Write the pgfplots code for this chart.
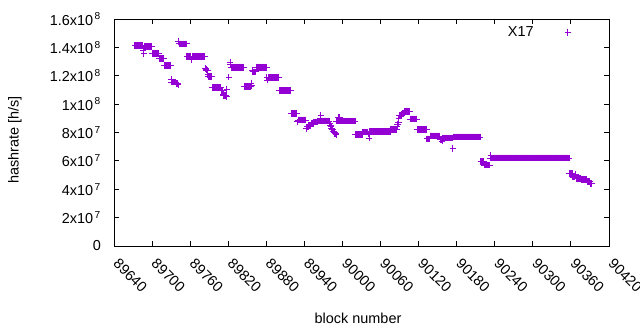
\documentclass[border=0pt]{standalone}
\usepackage{pgfplots}
\pgfplotsset{compat=1.18}
\usepackage{fontspec}
\setmainfont{Liberation Sans}
\definecolor{dv}{RGB}{148,0,211}
\newcommand{\sx}[2]{#1x10\kern1.5bp\textsuperscript{#2}}
\begin{document}
\fontsize{14.5}{17}\selectfont
\begin{tikzpicture}
\useasboundingbox (0,0) rectangle (640bp,330bp);
\begin{axis}[
  at={(114bp,84bp)}, anchor=south west,
  scale only axis, width=495bp, height=227bp,
  xmin=89640, xmax=90420, ymin=0, ymax=160,
  scaled x ticks=false, scaled y ticks=false,
  xtick={89640,89700,89760,89820,89880,89940,90000,90060,90120,90180,90240,90300,90360,90420},
  xticklabels={89640,89700,89760,89820,89880,89940,90000,90060,90120,90180,90240,90300,90360,90420},
  ytick={0,20,40,60,80,100,120,140,160},
  yticklabels={0,\sx{2}{7},\sx{4}{7},\sx{6}{7},\sx{8}{7},\sx{1}{8},\sx{1.2}{8},\sx{1.4}{8},\sx{1.6}{8}},
  tick align=inside, tick pos=both,
  major tick length=5bp,
  axis line style={line width=0.9bp},
  every tick/.style={black, line width=0.9bp},
  xticklabel style={xshift=2bp, yshift=-15bp, rotate=-45, anchor=west, inner sep=0pt},
  yticklabel style={inner sep=0pt, xshift=-13bp},
  xlabel={block number}, ylabel={hashrate [h/s]},
  xlabel style={at={(axis description cs:0.493,-0.317)}, anchor=center},
  ylabel style={at={(axis description cs:-0.2,0.467)}, anchor=center},
  legend plot pos=right,
  legend style={draw=none, fill=none, inner sep=0pt, column sep=31bp, nodes={inner sep=0pt},
    at={(rel axis cs:0.9242,0.9396)}, anchor=east},
]
\addplot[only marks, mark=+, mark size=3.3bp, color=dv, mark options={line width=1bp}] coordinates {
(89673,141.5)(89674,141.5)(89675,141.5)(89676,141.5)(89677,141.5)(89678,141.5)(89679,141.5)(89680,141.5)(89681,141.5)(89682,141.5)(89683,141.5)(89684,141.5)(89685,141.5)
(89686,138)(89687,135.5)
(89688,140.7)(89689,140.7)(89690,140.7)(89691,140.7)(89692,140.7)(89693,140.7)(89694,140.7)(89695,140.7)(89696,140.7)(89697,140.7)(89698,140.7)(89699,140.7)
(89700,135.8)(89701,135.8)(89702,135.8)(89703,135.8)(89704,135.8)(89705,135.8)(89706,135.8)(89707,135.8)(89708,135.8)(89709,135.8)(89710,135.8)
(89711,132.3)(89712,132.3)(89713,132.3)(89714,132.3)(89715,132.3)(89716,132.3)(89717,132.3)(89718,132.3)
(89719,127.3)(89720,127.3)(89721,127.3)(89722,127.3)(89723,127.3)(89724,127.3)(89725,127.3)(89726,127.3)(89727,127.3)(89728,127.3)(89729,127.3)
(89730,117.5)(89731,115.5)(89732,115.5)(89733,115.5)(89734,115.5)(89735,115.5)(89736,115.5)(89737,115.5)(89738,114.5)(89739,114.5)(89740,114.5)(89741,113.5)
(89742,144)(89743,142.4)(89744,142.4)(89745,142.4)(89746,142.4)(89747,142.4)(89748,142.4)(89749,142.4)(89750,142.4)(89751,142.4)(89752,142.4)(89753,142.4)(89754,142.4)
(89755,133.7)(89756,133.7)(89757,133.7)(89758,133.7)(89759,133.7)(89760,133.7)(89761,133.7)(89762,131.5)(89763,133.7)(89764,133.7)(89765,133.7)(89766,133.7)(89767,133.7)(89768,133.7)(89769,133.7)
(89770,133.7)(89771,133.7)(89772,133.7)(89773,133.7)(89774,133.7)(89775,133.7)(89776,133.7)(89777,133.7)(89778,133.7)(89779,133.7)(89780,133.7)(89781,133.7)(89782,133.7)(89783,133.7)
(89784,125)(89785,124.5)(89786,124)(89787,123.5)(89788,121)(89789,119.5)(89790,119.5)(89791,119.5)(89792,119.5)(89793,119.5)(89794,119.5)
(89795,111.8)(89796,111.8)(89797,111.8)(89798,111.8)(89799,111.8)(89800,111.8)(89801,111.8)(89802,111.8)(89803,111.8)(89804,111.8)(89805,111.8)(89806,111.8)(89807,111.8)(89808,111.8)
(89809,109.5)(89810,109.5)(89811,109.5)(89812,107)(89813,106)(89814,106)(89815,106)(89816,106)(89817,105.5)(89818,110.4)
(89821,119)(89823,129.5)(89824,128)
(89825,126)(89826,126)(89827,126)(89828,126)(89829,126)(89830,126)(89831,126)(89832,126)(89833,126)(89834,126)(89835,126)(89836,126)(89837,126)(89838,126)(89839,126)(89840,126)(89841,126)(89842,126)(89843,126)(89844,126)
(89845,112.5)(89846,112.5)(89847,112.5)(89848,112.5)(89849,112.5)(89850,112.5)(89851,112.5)(89852,112.5)(89853,112.5)(89854,112.5)(89855,112.5)(89856,114.6)(89857,113)
(89858,124)(89859,122.7)(89860,122.7)(89861,122.7)(89862,122.7)(89863,122.7)
(89864,126)(89865,126)(89866,126)(89867,126)(89868,126)(89869,126)(89870,126)(89871,126)(89872,126)(89873,126)(89874,126)(89875,126)(89876,126)(89877,126)(89878,126)(89879,126)(89880,126)
(89881,118.6)(89882,117)(89883,118.8)(89884,118.8)(89885,118.8)(89886,118.8)(89887,118.8)(89888,118.8)(89889,118.8)(89890,118.8)(89891,118.8)(89892,118.8)(89893,118.8)(89894,118.8)(89895,118.8)(89896,118.8)(89897,118.8)(89898,118.8)(89899,118.8)
(89900,109.7)(89901,109.7)(89902,109.7)(89903,109.7)(89904,109.7)(89905,109.7)(89906,109.7)(89907,109.7)(89908,109.7)(89909,109.7)(89910,109.7)(89911,109.7)(89912,109.7)(89913,109.7)(89914,109.7)(89915,109.7)(89916,109.7)(89917,109.7)(89918,109.7)
(89919,93.5)(89920,93.5)(89921,93.5)(89922,93.5)(89923,93.5)(89924,93.5)(89925,93.5)(89926,93.5)(89927,93.5)(89928,93.5)
(89929,87.5)(89930,88.8)(89931,88.8)(89932,88.8)(89933,88.8)(89934,88.8)(89935,88.8)(89936,88.8)(89937,88.8)(89938,88.8)(89939,88.8)(89940,88.8)(89941,88.8)(89942,88.8)
(89943,83)(89944,84)(89945,84)(89946,84)(89947,85)(89948,85)(89949,85)(89950,85)(89951,86.5)(89952,86.5)(89953,86.5)(89954,86.5)(89955,87.5)(89956,87.5)(89957,87.5)(89958,87.5)(89959,87.5)(89960,87.5)
(89961,88)(89962,88)(89963,88)(89964,88)(89965,88)(89966,92.3)
(89967,88.1)(89968,88.1)(89969,88.1)(89970,88.1)(89971,88.1)(89972,88.1)(89973,88.1)(89974,88.1)(89975,88.1)(89976,88.1)(89977,88.1)(89978,88.1)(89979,88.1)
(89980,86)(89981,85)(89982,84)(89983,83)(89984,82)(89985,81)(89986,80.5)(89987,80)(89988,79.5)(89989,79)(89990,78.5)
(89991,88)(89992,88)(89993,88)(89994,90.5)(89995,90.5)(89996,88)(89997,88)(89998,88)(89999,88)(90000,88)(90001,88)(90002,88)(90003,88)(90004,88)(90005,88)(90006,88)(90007,88)(90008,88)
(90009,88)(90010,88)(90011,88)(90012,88)(90013,88)(90014,88)(90015,88)(90016,88)(90017,88)(90018,88)(90019,88)(90020,88)
(90021,78.7)(90022,78.7)(90023,78.7)(90024,78.7)(90025,78.7)(90026,78.7)(90027,78.7)(90028,78.7)(90029,78.7)(90030,78.7)(90031,78.7)
(90032,80.3)(90033,80.3)(90034,80.3)(90035,80.3)(90036,80.3)(90037,80.3)(90038,80.3)(90039,80.3)(90040,80.3)(90041,79)(90042,76)
(90043,80.8)(90044,80.8)(90045,80.8)(90046,80.8)(90047,80.8)(90048,80.8)(90049,80.8)(90050,80.8)(90051,80.8)(90052,80.8)(90053,80.8)(90054,80.8)(90055,80.8)(90056,80.8)(90057,80.8)(90058,80.8)(90059,80.8)
(90060,80.8)(90061,80.8)(90062,80.8)(90063,80.8)(90064,80.8)(90065,80.8)(90066,80.8)(90067,80.8)(90068,80.8)(90069,80.8)(90070,80.8)(90071,80.8)(90072,80.8)(90073,80.8)(90074,80.8)(90075,80.8)
(90076,82)(90077,82)(90078,82)(90079,82)(90080,82)(90081,82)(90082,82)(90083,82)(90084,82)(90085,82)
(90086,84)(90087,85.5)(90088,87)(90089,90)(90090,92)(90091,92)(90092,92)(90093,92)(90094,93.5)(90095,93.5)(90096,93.5)
(90097,95)(90098,95)(90099,95)(90100,95)(90101,95)(90102,95)(90103,95)(90104,95)(90105,95)(90106,95)
(90107,89.5)(90108,89.5)(90109,89.5)(90110,89.5)(90111,89.5)(90112,89.5)(90113,89.5)(90114,89.5)(90115,89.5)(90116,89.5)(90117,89.5)
(90118,82)(90119,82)(90120,82)(90121,82)(90122,82)(90123,82)(90124,82)(90125,82)(90126,82)(90127,82)(90128,82)(90129,82)(90130,82)(90131,82)(90132,82)
(90133,75.5)(90134,75.5)(90135,75.5)(90136,75.5)(90137,75.5)
(90138,77.5)(90139,77.5)(90140,77.5)(90141,77.5)(90142,77.5)(90143,77.5)(90144,77.5)(90145,77.5)(90146,77.5)(90147,77.5)(90148,77.5)(90149,77.5)(90150,77.5)(90151,77.5)(90152,77.5)(90153,77.5)
(90154,75)(90155,75)(90156,75)(90157,74)
(90158,76)(90159,76)(90160,76)(90161,76)(90162,76)(90163,76)(90164,76)(90165,76)(90166,76)(90167,76)(90168,76)(90169,76)(90170,76)(90171,76)(90172,76)(90173,76)(90174,68.8)
(90175,76.8)(90176,76.8)(90177,76.8)(90178,76.8)(90179,76.8)(90180,76.8)(90181,76.8)(90182,76.8)(90183,76.8)(90184,76.8)(90185,76.8)(90186,76.8)(90187,76.8)(90188,76.8)(90189,76.8)(90190,76.8)
(90191,76.8)(90192,76.8)(90193,76.8)(90194,76.8)(90195,76.8)(90196,76.8)(90197,76.8)(90198,76.8)(90199,76.8)(90200,76.8)(90201,76.8)(90202,76.8)(90203,76.8)(90204,76.8)(90205,76.8)(90206,76.8)
(90207,76.8)(90208,76.8)(90209,76.8)(90210,76.8)(90211,76.8)(90212,76.8)(90213,76.8)(90214,76.8)(90215,76.8)(90216,76.8)(90217,76.8)
(90218,59.5)(90219,59.5)(90220,59.5)(90221,59.5)(90222,59.5)(90223,59.5)
(90224,57)(90225,57)(90226,57)(90227,57)(90228,57)(90229,57)(90230,57)(90231,57)(90232,57)(90233,62)(90234,64)
(90235,62)(90236,62)(90237,62)(90238,62)(90239,62)(90240,62)(90241,62)(90242,62)(90243,62)(90244,62)(90245,62)(90246,62)(90247,62)(90248,62)(90249,62)(90250,62)(90251,62)(90252,62)(90253,62)(90254,62)
(90255,62)(90256,62)(90257,62)(90258,62)(90259,62)(90260,62)(90261,62)(90262,62)(90263,62)(90264,62)(90265,62)(90266,62)(90267,62)(90268,62)(90269,62)(90270,62)(90271,62)(90272,62)(90273,62)(90274,62)
(90275,62)(90276,62)(90277,62)(90278,62)(90279,62)(90280,62)(90281,62)(90282,62)(90283,62)(90284,62)(90285,62)(90286,62)(90287,62)(90288,62)(90289,62)(90290,62)(90291,62)(90292,62)(90293,62)(90294,62)
(90295,62)(90296,62)(90297,62)(90298,62)(90299,62)(90300,62)(90301,62)(90302,62)(90303,62)(90304,62)(90305,62)(90306,62)(90307,62)(90308,62)(90309,62)(90310,62)(90311,62)(90312,62)(90313,62)(90314,62)
(90315,62)(90316,62)(90317,62)(90318,62)(90319,62)(90320,62)(90321,62)(90322,62)(90323,62)(90324,62)(90325,62)(90326,62)(90327,62)(90328,62)(90329,62)(90330,62)(90331,62)(90332,62)(90333,62)(90334,62)
(90335,62)(90336,62)(90337,62)(90338,62)(90339,62)(90340,62)(90341,62)(90342,62)(90343,62)(90344,62)(90345,62)(90346,62)(90347,62)(90348,62)(90349,62)(90350,62)(90351,62)(90352,62)(90353,62)(90354,62)
(90355,62)(90356,62)(90357,62)
(90358,51)(90359,51)(90360,51)(90361,51)(90362,51)(90363,48.5)(90364,48.5)(90365,48.5)(90366,48.5)(90367,50.5)
(90368,47.5)(90369,47.5)(90370,47.5)(90371,47.5)(90372,47.5)(90373,47.5)(90374,47.5)(90375,47.5)
(90376,47)(90377,47)(90378,47)(90379,47)(90380,47)(90381,47)(90382,47)(90383,47)(90384,47)(90385,47)
(90386,45.5)(90387,45.5)(90388,45.5)(90389,45.5)(90390,45.5)(90391,44)(90392,44)(90393,44)
};
\addlegendentry{X17}
\end{axis}
\end{tikzpicture}
\end{document}
